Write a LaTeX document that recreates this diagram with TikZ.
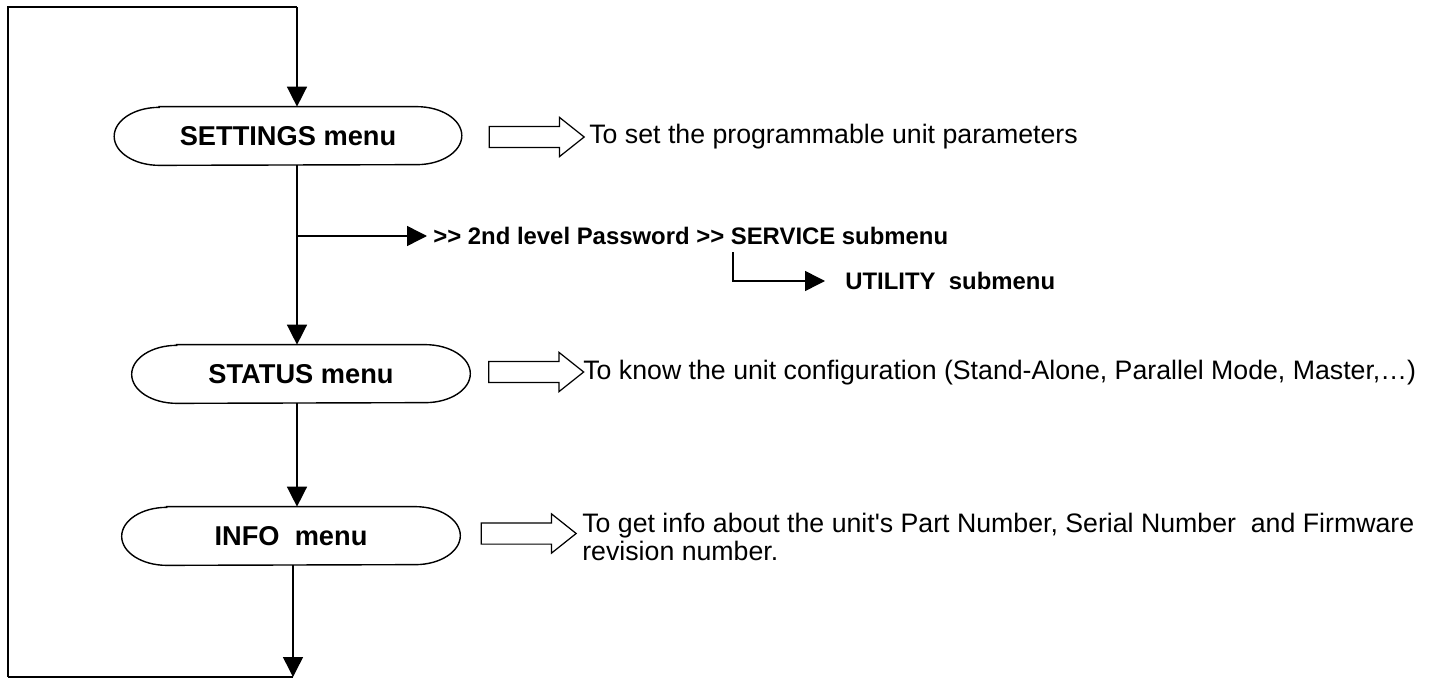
\documentclass[tikz,border=0pt]{standalone}
\usepackage{fontspec}
\setmainfont{Liberation Sans}
\usetikzlibrary{arrows.meta,shapes.arrows}

% stadium outline round a menu node
\newcommand\menuoutline[1]{%
  \draw[line width=0.8pt] ([xshift=0.9cm]#1.north west) -- ([xshift=-0.9cm]#1.north east)
    arc[start angle=90,end angle=-90,x radius=0.9cm,y radius=0.58cm]
    -- ([xshift=0.9cm]#1.south west)
    arc[start angle=270,end angle=90,x radius=0.9cm,y radius=0.58cm] -- cycle;}

\begin{document}
\begin{tikzpicture}[
  x=0.02cm, y=-0.02cm,
  line/.style={line width=0.85pt},
  arr/.style={line, -{Triangle[length=0.4cm,width=0.4cm]}},
  sarr/.style={line, -{Triangle[length=0.4cm,width=0.4cm]}},
  menu/.style={minimum height=1.16cm, inner sep=0, font=\fontsize{15.5}{18}\selectfont\bfseries},
  blockarr/.style={single arrow, draw, line width=0.7pt, minimum height=1.9cm, inner sep=0.2cm,
    single arrow head extend=0.18cm, single arrow tip angle=77, single arrow head indent=0cm},
  desc/.style={anchor=west, inner sep=0, font=\fontsize{15.2}{16}\selectfont},
  sub/.style={anchor=west, inner sep=0, font=\fontsize{13.6}{16}\selectfont\bfseries}
]
\useasboundingbox (0,0) rectangle (1438,679);

\coordinate (tl) at (8,7);
\coordinate (top) at (297,7);
\coordinate (bl) at (8,677);
\coordinate (bottom) at (293,677);
\coordinate (fork) at (733,252);

\node[menu, minimum width=6.94cm] (settings) at (288,136) {SETTINGS menu};
\node[menu, minimum width=6.76cm] (status) at (301,374) {STATUS menu};
\node[menu, minimum width=6.76cm] (info) at (291,536) {INFO\ \ menu};
\menuoutline{settings}
\menuoutline{status}
\menuoutline{info}

\node[blockarr] (setarrow) at (530,137) {};
\node[blockarr] (statarrow) at (529.5,372) {};
\node[blockarr] (infoarrow) at (522,533.5) {};

\node[desc] (setdesc) at (589,137) {To set the programmable unit parameters};
\node[desc] (statdesc) at (583,373) {To know the unit configuration (Stand-Alone, Parallel Mode, Master,…)};
\node[desc, align=left] (infodesc) at (582,537) {To get info about the unit\textquotesingle s Part Number, Serial Number\ \ and Firmware\\revision number.};

\node[sub] (service) at (433,236) {>\kern0pt>\ 2nd level Password >\kern0pt>\ SERVICE submenu};
\node[sub] (utility) at (845,281) {UTILITY\ \ submenu};

% main loop
\draw[line] (bl) -- (tl) -- (top);
\draw[arr] (top) -- (top |- settings.north);
\draw[arr] (settings.south -| top) -- (status.north -| top);
\draw[arr] (status.south -| top) -- (info.north -| top);
\draw[arr] (info.south -| bottom) -- (bottom);
\draw[line] (bottom) -- (bl);

% password branch
\draw[sarr] (top |- service.west) -- ([xshift=-0.12cm]service.west);
\draw[sarr] (fork) |- ([xshift=-0.4cm]utility.west);
\end{tikzpicture}
\end{document}
